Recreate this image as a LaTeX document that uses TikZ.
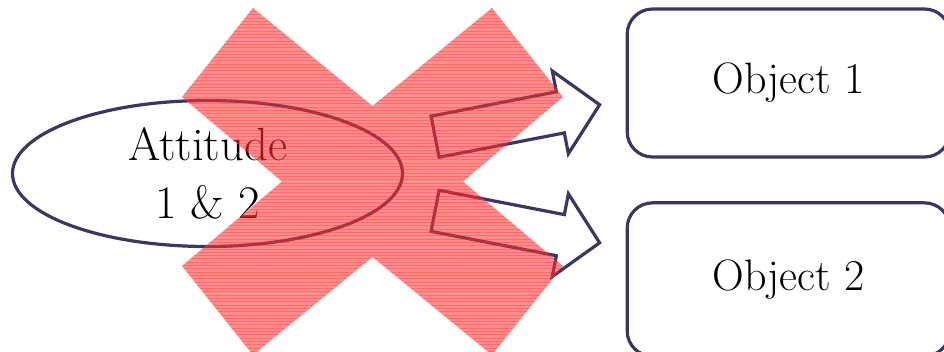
\documentclass[tikz,border=0pt]{standalone}
\usepackage{fontspec}
\usetikzlibrary{positioning, shapes.geometric, shapes.arrows}

\definecolor{edgeblue}{RGB}{56,56,98}
\definecolor{crossred}{RGB}{255,45,45}

% outline of the big cross, pixel coordinates
\def\crosspath{(253,8) -- (372.5,106) -- (492,8) -- (563,97) -- (463,181.5)
  -- (563,266) -- (492,355) -- (372.5,257) -- (253,355) -- (182,266)
  -- (282,181.5) -- (182,97) -- cycle}

\begin{document}
\begin{tikzpicture}[x=0.75pt, y=-0.75pt]
    \tikzset{
      attbox/.style={
        ellipse, draw=edgeblue, line width=2.4pt,
        minimum width=292.5pt, minimum height=109.5pt,
        align=center, inner sep=0pt,
        font=\fontsize{35}{43}\selectfont
      },
      objbox/.style={
        rectangle, rounded corners=19pt,
        draw=edgeblue, line width=2.4pt,
        minimum width=242pt, font=\fontsize{33}{40}\selectfont
      },
      blockarrow/.style={
        single arrow, draw=edgeblue, line width=2.4pt,
        inner sep=14.5pt, minimum height=125.7pt,
        single arrow head extend=15.9pt, single arrow tip angle=93,
        anchor=tail
      }
    }
    \useasboundingbox (0,0) rectangle (944,351);

    % Attitude
    \node[attbox] (att) at (207.5,173.5) {Attitude\\1 \& 2};

    % Arrows
    \node[blockarrow, rotate=11] (arrA) at (433.5,137) {};
    \node[blockarrow, rotate=-11] (arrB) at (433.5,210.5) {};

    % Objects (right side runs off the page)
    \node[objbox, minimum height=111pt] (obj1) at (788.5,83) {Object 1};
    \node[objbox, minimum height=115pt] (obj2) at (788.5,279.5) {Object 2};

    % Cross over everything
    \fill[crossred, fill opacity=0.55] \crosspath;
    \begin{scope}
      \clip \crosspath;
      \foreach \y in {8,11.3,...,356}
        \draw[crossred, opacity=0.35, line width=0.5pt] (170,\y) -- (580,\y);
    \end{scope}
  \end{tikzpicture}
\end{document}
